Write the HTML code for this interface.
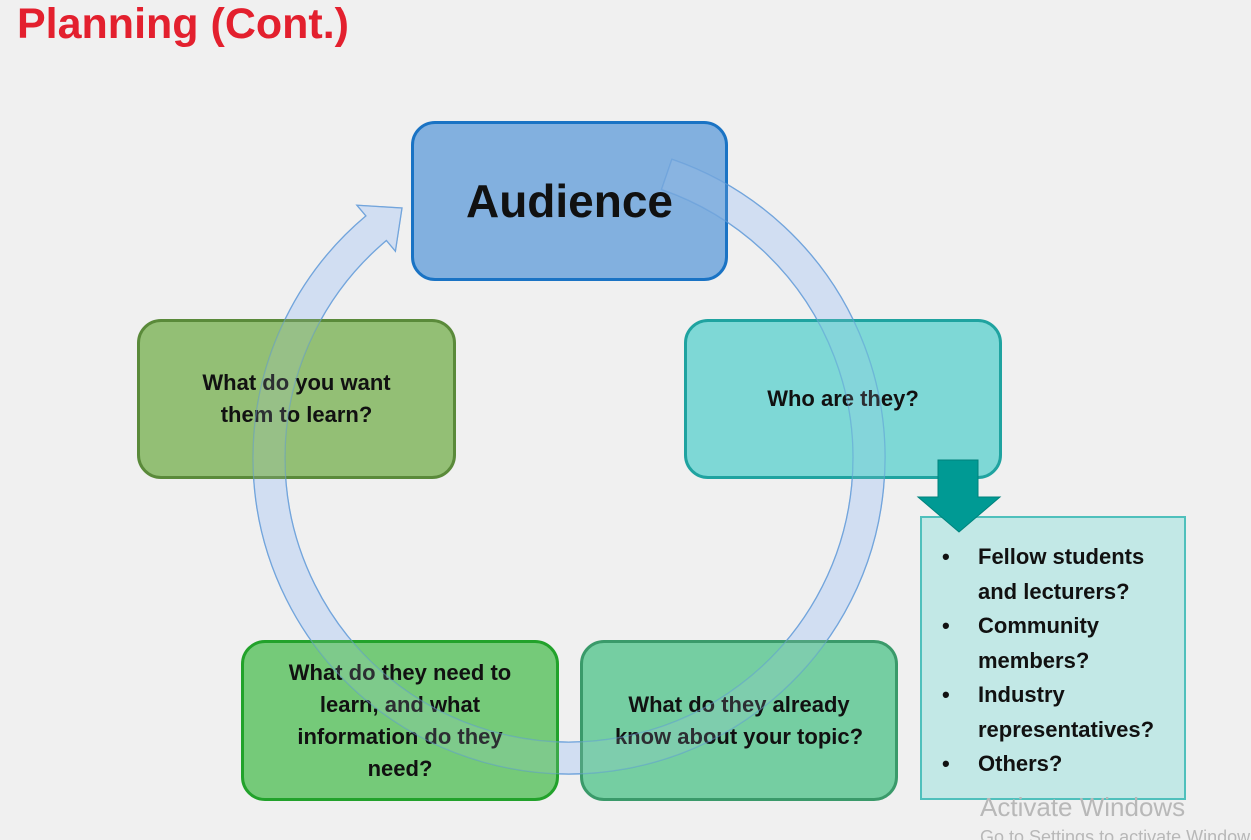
<!DOCTYPE html>
<html style="overflow:hidden;height:840px"><head><meta charset="utf-8"><style>
body{margin:0;width:1251px;height:840px;background:#f0f0f0;overflow:hidden;position:relative;font-family:"Liberation Sans",Arial,sans-serif}
.t{position:absolute;left:17px;top:0px;font-size:43px;font-weight:bold;color:#e3202e;letter-spacing:0px}
.b{position:absolute;box-sizing:border-box;border-radius:24px;border:3px solid;display:flex;align-items:center;justify-content:center;text-align:center;font-weight:bold;font-size:22px;line-height:32px;color:#111}
.lst{position:absolute;left:920px;top:516px;width:266px;height:284px;box-sizing:border-box;background:#c2e8e6;border:2px solid #4fc0bc;font-weight:bold;font-size:22px;line-height:34.5px;color:#111;padding-top:22px}
.lst div{position:relative;padding-left:56px}
.lst div span{position:absolute;left:20px}
.aw{position:absolute;left:980px;top:792px;font-size:26px;color:#b8b8b8;white-space:nowrap}
.aw2{position:absolute;left:980px;top:826px;height:14px;overflow:hidden;font-size:18px;line-height:22px;color:#b8b8b8;white-space:nowrap}
svg{position:absolute;left:0;top:0}
</style></head><body>
<div class="t">Planning (Cont.)</div>
<svg width="1251" height="840">
<path d="M671.9,159.2 A316,316 0 1 1 365.9,215.9 L356.9,205.2 L402,208 L395.4,251.2 L386.4,240.5 A284,284 0 1 0 661.5,189.5 Z" fill="#d3e0f2" stroke="#6fa3dc" stroke-width="1.3"/>
</svg>
<div class="b" style="left:411px;top:121px;width:317px;height:160px;background:rgba(110,165,220,0.85);border-color:#1a73c4;font-size:46px">Audience</div>
<div class="b" style="left:137px;top:319px;width:319px;height:160px;background:rgba(130,182,95,0.85);border-color:#5a8a3a">What do you want<br>them to learn?</div>
<div class="b" style="left:684px;top:319px;width:318px;height:160px;background:rgba(100,210,208,0.82);border-color:#1fa3a0">Who are they?</div>
<div class="b" style="left:241px;top:640px;width:318px;height:161px;background:rgba(95,195,100,0.85);border-color:#22a22b">What do they need to<br>learn, and what<br>information do they<br>need?</div>
<div class="b" style="left:580px;top:640px;width:318px;height:161px;background:rgba(95,200,148,0.85);border-color:#3a9a6a">What do they already<br>know about your topic?</div>
<div class="lst">
<div><span>•</span>Fellow students<br>and lecturers?</div>
<div><span>•</span>Community<br>members?</div>
<div><span>•</span>Industry<br>representatives?</div>
<div><span>•</span>Others?</div>
</div>
<svg width="1251" height="840">
<path d="M671.9,159.2 A316,316 0 1 1 365.9,215.9 L356.9,205.2 L402,208 L395.4,251.2 L386.4,240.5 A284,284 0 1 0 661.5,189.5 Z" fill="#c8daf2" fill-opacity="0.15" stroke="#6fa3dc" stroke-opacity="0.5" stroke-width="1.2"/>
<polygon points="938,460 978,460 978,497 1000,497 959,532 918,497 938,497" fill="#009a94" stroke="#00827c" stroke-width="1"/>
</svg>
<div class="aw">Activate Windows</div>
<div class="aw2">Go to Settings to activate Windows.</div>
</body></html>
